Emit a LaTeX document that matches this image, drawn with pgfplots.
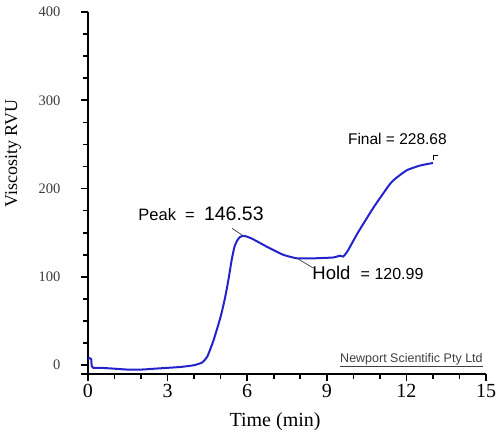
\documentclass[border=0pt]{standalone}
\usepackage{fontspec}
\setmainfont{Liberation Serif}
\newfontfamily\arial{Liberation Sans}
\usepackage{pgfplots}
\pgfplotsset{compat=1.18}

\definecolor{rvublue}{RGB}{35,35,205}
\definecolor{tickgray}{RGB}{60,60,60}

\begin{document}
\begin{tikzpicture}[x=1pt,y=1pt]
\begin{axis}[
    scale only axis,
    width=398pt, height=362pt,
    xmin=0, xmax=15,
    ymin=-10, ymax=400,
    axis x line=bottom, axis y line=left,
    axis line style={-, line width=2pt},
    xtick={0,3,6,9,12,15},
    ytick={0,100,200,300,400},
    extra y ticks={-10}, extra y tick labels={},
    minor x tick num=2, minor y tick num=3,
    tick align=outside,
    major tick length=7pt, minor tick length=5pt,
    every tick/.style={black, line width=1.6pt},
    xticklabel style={font=\fontsize{20}{22}\selectfont},
    yticklabel style={font=\fontsize{14.5}{16}\selectfont, text=tickgray, xshift=-17pt},
    /pgf/number format/assume math mode=true,
    xlabel={Time (min)},
    xlabel style={font=\fontsize{20}{22}\selectfont, at={(axis description cs:0.47,-0.133)}, anchor=center},
    ylabel={Viscosity RVU},
    ylabel style={font=\fontsize{18}{20}\selectfont, at={(axis description cs:-0.188,0.608)}, anchor=center},
    clip=false,
]
\addplot[rvublue, line width=2pt, smooth, tension=0.3] coordinates {
(0,7)(0.05,8)(0.12,7)(0.14,-1)(0.2,-3)(0.5,-3)(1,-4)(1.5,-5)(2,-5)(2.5,-4)
(3,-3)(3.5,-2)(4,0)(4.3,3)(4.5,10)(4.73,28)(5.0,55)(5.17,77)(5.3,98)
(5.42,120)(5.52,134)(5.62,141)(5.72,145)(5.85,146.5)(6.0,145.5)(6.2,143)
(6.75,134)(7.36,125)(7.88,121)(8.5,121)(9.25,122)(9.5,124)(9.62,123)
(9.8,130)(10.15,149)(10.77,179)(11.4,206)(11.7,214)(12.03,221)(12.5,226)(13.0,229)
};
% annotations
\draw[black!75, line width=0.7pt] (axis cs:5.43,155) -- (axis cs:5.85,146.5);
\node[font=\arial, anchor=center] at (axis cs:4.26,172)
  {\fontsize{16.5}{18}\selectfont Peak \ =\ \ \fontsize{19.5}{21}\selectfont 146.53};
\draw[black!75, line width=0.7pt] (axis cs:7.88,121) -- (axis cs:8.49,110);
\node[font=\arial, anchor=center] at (axis cs:10.55,104)
  {\fontsize{18.5}{20}\selectfont Hold\ \ \fontsize{16}{17}\selectfont = 120.99};
\node[font=\arial\fontsize{15.5}{17}\selectfont, anchor=center] at (axis cs:11.66,256)
  {Final = 228.68};
\draw[black, line width=0.8pt] (axis cs:13.0,232) -- (axis cs:13.0,238) -- (axis cs:13.2,238);
\node[font=\arial\fontsize{12.5}{14}\selectfont, text=black!75, anchor=center] at (axis cs:12.19,5.7)
  {\underline{Newport Scientific Pty Ltd}};
\end{axis}
\pgfresetboundingbox
\path (-88,-66) rectangle (415,374);
\end{tikzpicture}
\end{document}
